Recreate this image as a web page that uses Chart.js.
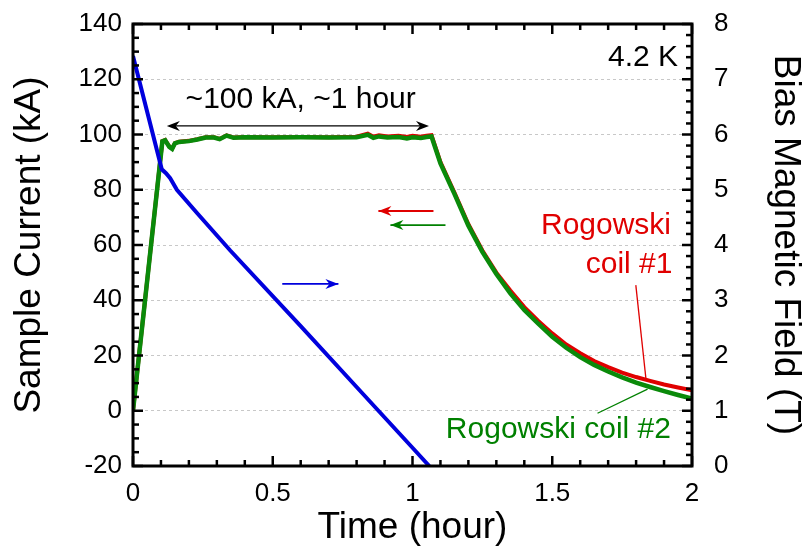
<!DOCTYPE html>
<html>
<head>
<meta charset="utf-8">
<script src="https://cdn.jsdelivr.net/npm/chart.js@4.4.0/dist/chart.umd.min.js"></script>
<style>
  html, body { margin: 0; padding: 0; background: #fff; }
</style>
</head>
<body>
<canvas id="myChart" width="804" height="551"></canvas>
<script>
// ---- data ----
// bias magnetic field (right axis, T)
const fieldTime = [0, 0.103, 0.118, 0.133, 0.157, 0.229, 0.348, 0.6, 0.8, 1.0, 1.06];
const fieldTesla = [7.42, 5.37, 5.3, 5.21, 5.0, 4.58, 3.9, 2.53, 1.43, 0.33, 0];

// sample current from the two Rogowski coils (left axis, kA)
const coilTime = [0, 0.105, 0.115, 0.13, 0.14, 0.15, 0.165, 0.2, 0.23, 0.26,
  0.29, 0.31, 0.335, 0.36, 0.4, 0.5, 0.6, 0.7, 0.8, 0.84,
  0.86, 0.88, 0.91, 0.95, 0.98, 1.0, 1.03, 1.05, 1.068,
  1.1, 1.15, 1.2, 1.25, 1.3, 1.35, 1.4, 1.45, 1.5, 1.55,
  1.6, 1.65, 1.7, 1.75, 1.8, 1.85, 1.9, 1.95, 2.0];
const coil1 = [0, 97.6, 98, 95.6, 94.9, 96.9, 97.4, 97.7, 98.3, 99,
  99, 98.4, 99.7, 98.9, 99.1, 99, 99.1, 99, 99.2, 100.3,
  99.2, 99.7, 99.3, 99.5, 99.1, 99.5, 99.2, 99.6, 99.8,
  90, 79, 67.5, 58, 50, 43.5, 37.5, 32.5, 28, 24,
  20.8, 18, 15.8, 13.8, 12.2, 10.8, 9.5, 8.4, 7.4];
const coil2 = [0, 97.5, 97.9, 95.5, 94.8, 96.8, 97.3, 97.6, 98.2, 98.9,
  98.9, 98.3, 99.6, 98.8, 99, 98.9, 99, 98.9, 99, 99.9,
  98.8, 99.3, 98.9, 99.1, 98.6, 99, 98.7, 99.1, 99.3,
  89.5, 78.5, 67, 57.5, 49.5, 42.5, 36.5, 31.5, 26.8, 22.8,
  19.4, 16.6, 14.2, 12.1, 10.2, 8.6, 7.1, 5.7, 4.4];

// tick labels
const timeTicks = [0, 0.5, 1, 1.5, 2];
const timeLabels = ["0", "0.5", "1", "1.5", "2"];
const currentTicks = [-20, 0, 20, 40, 60, 80, 100, 120, 140];
const currentLabels = ["-20", "0", "20", "40", "60", "80", "100", "120", "140"];
const fieldTicks = [0, 1, 2, 3, 4, 5, 6, 7, 8];
const fieldLabels = ["0", "1", "2", "3", "4", "5", "6", "7", "8"];

const FONT = "'Liberation Sans', Arial, sans-serif";

function toPoints(xs, ys) {
  return xs.map((x, i) => ({ x: x, y: ys[i] }));
}

// frame + inward ticks (major & minor) on all four sides
const frameTicks = {
  id: "frameTicks",
  afterDraw(chart) {
    const { ctx, chartArea: a, scales } = chart;
    ctx.save();
    ctx.strokeStyle = "#000";
    ctx.lineWidth = 2.5;
    const line = (x1, y1, x2, y2) => {
      ctx.beginPath();
      ctx.moveTo(x1, y1);
      ctx.lineTo(x2, y2);
      ctx.stroke();
    };
    for (let i = 0; i <= 20; i++) {
      const x = scales.x.getPixelForValue(i * 0.1);
      const len = i % 5 === 0 ? 10 : 6;
      line(x, a.bottom, x, a.bottom - len);
      line(x, a.top, x, a.top + len);
    }
    for (let i = 0; i <= 32; i++) {
      const y = scales.y.getPixelForValue(-20 + i * 5);
      const len = i % 4 === 0 ? 10 : 6;
      line(a.left, y, a.left + len, y);
    }
    for (let i = 0; i <= 40; i++) {
      const y = scales.y1.getPixelForValue(i * 0.2);
      const len = i % 5 === 0 ? 10 : 6;
      line(a.right, y, a.right - len, y);
    }
    ctx.lineWidth = 3;
    ctx.strokeRect(a.left, a.top, a.right - a.left, a.bottom - a.top);
    ctx.restore();
  },
};

function arrowHead(ctx, x, y, dir, color) {
  // dir: +1 points right, -1 points left
  const L = 13, W = 5, N = 9;
  ctx.fillStyle = color;
  ctx.beginPath();
  ctx.moveTo(x, y);
  ctx.lineTo(x - dir * L, y - W);
  ctx.lineTo(x - dir * N, y);
  ctx.lineTo(x - dir * L, y + W);
  ctx.closePath();
  ctx.fill();
}

// text, arrows and leader lines placed in data units
const notes = {
  id: "notes",
  afterDatasetsDraw(chart) {
    const { ctx, scales } = chart;
    const px = (t) => scales.x.getPixelForValue(t);
    const py = (k) => scales.y.getPixelForValue(k);
    ctx.save();

    // ~100 kA, ~1 hour
    ctx.fillStyle = "#000";
    ctx.font = "30px " + FONT;
    ctx.textAlign = "center";
    ctx.textBaseline = "middle";
    ctx.fillText("~100 kA, ~1 hour", px(0.6), py(112.5));
    ctx.strokeStyle = "#000";
    ctx.lineWidth = 1.2;
    let x1 = px(0.121), x2 = px(1.059), y = py(103.1);
    ctx.beginPath();
    ctx.moveTo(x1 + 6, y);
    ctx.lineTo(x2 - 6, y);
    ctx.stroke();
    arrowHead(ctx, x1, y, -1, "#000");
    arrowHead(ctx, x2, y, 1, "#000");

    // 4.2 K
    ctx.textAlign = "right";
    ctx.fillText("4.2 K", px(1.95), py(127.9));

    // axis direction arrows
    const dirArrow = (ta, tb, k, color, dir) => {
      const xa = px(ta), xb = px(tb), yy = py(k);
      ctx.strokeStyle = color;
      ctx.lineWidth = 1.8;
      ctx.beginPath();
      ctx.moveTo(xa, yy);
      ctx.lineTo(xb, yy);
      ctx.stroke();
      arrowHead(ctx, dir > 0 ? xb : xa, yy, dir, color);
    };
    dirArrow(0.878, 1.075, 72.3, "#e00000", -1);
    dirArrow(0.921, 1.118, 67.2, "#008000", -1);
    dirArrow(0.534, 0.735, 45.9, "#0000dd", 1);

    // coil labels
    ctx.fillStyle = "#e00000";
    ctx.textAlign = "right";
    ctx.fillText("Rogowski", px(1.925), py(66.9));
    ctx.fillText("coil #1", px(1.93), py(52.8));
    ctx.strokeStyle = "#e00000";
    ctx.lineWidth = 1.3;
    ctx.beginPath();
    ctx.moveTo(px(1.799), py(45.5));
    ctx.lineTo(px(1.835), py(11.7));
    ctx.stroke();

    ctx.fillStyle = "#008000";
    ctx.textAlign = "center";
    ctx.fillText("Rogowski coil #2", px(1.522), py(-7));
    ctx.strokeStyle = "#008000";
    ctx.beginPath();
    ctx.moveTo(px(1.662), py(-0.9));
    ctx.lineTo(px(1.841), py(7.8));
    ctx.stroke();

    ctx.restore();
  },
};

const ctx = document.getElementById("myChart").getContext("2d");
const myChart = new Chart(ctx, {
  type: "line",
  data: {
    datasets: [
      {
        label: "Bias field",
        data: toPoints(fieldTime, fieldTesla),
        yAxisID: "y1",
        borderColor: "#0000dd",
        borderWidth: 4,
        pointRadius: 0,
        tension: 0,
      },
      {
        label: "Rogowski coil #2",
        data: toPoints(coilTime, coil2),
        yAxisID: "y",
        borderColor: "#0a8a0a",
        borderWidth: 4.5,
        pointRadius: 0,
        tension: 0,
      },
      {
        label: "Rogowski coil #1",
        data: toPoints(coilTime, coil1),
        yAxisID: "y",
        borderColor: "#e00000",
        borderWidth: 4,
        pointRadius: 0,
        tension: 0,
      },
    ],
  },
  options: {
    responsive: false,
    animation: false,
    devicePixelRatio: 1,
    layout: { padding: { top: 24, left: 0, right: 0, bottom: 0 } },
    plugins: {
      legend: { display: false },
      tooltip: { enabled: false },
    },
    scales: {
      x: {
        type: "linear",
        min: 0,
        max: 2,
        afterBuildTicks: (s) => { s.ticks = timeTicks.map((v) => ({ value: v })); },
        afterFit: (s) => { s.height = 85; s.paddingLeft = 0; s.paddingRight = 0; },
        grid: { display: false, drawTicks: false },
        border: { display: false },
        ticks: {
          color: "#000",
          padding: 12,
          maxRotation: 0,
          font: { family: FONT, size: 26 },
          callback: (v, i) => timeLabels[i],
        },
        title: {
          display: true,
          text: "Time (hour)",
          color: "#000",
          font: { family: FONT, size: 37, lineHeight: 1 },
          padding: { top: 0, bottom: 5 },
        },
      },
      y: {
        type: "linear",
        position: "left",
        min: -20,
        max: 140,
        afterBuildTicks: (s) => { s.ticks = currentTicks.map((v) => ({ value: v })); },
        afterFit: (s) => { s.width = 133; s.paddingTop = 0; s.paddingBottom = 0; },
        grid: { color: "#c8c8c8", lineWidth: 1, drawTicks: false },
        border: { display: false, dash: [3, 3] },
        ticks: {
          color: "#000",
          padding: 11,
          font: { family: FONT, size: 26 },
          callback: (v, i) => currentLabels[i],
        },
        title: {
          display: true,
          text: "Sample Current (kA)",
          color: "#000",
          font: { family: FONT, size: 37, lineHeight: 1 },
          padding: { top: 11, bottom: 0 },
        },
      },
      y1: {
        type: "linear",
        position: "right",
        min: 0,
        max: 8,
        afterBuildTicks: (s) => { s.ticks = fieldTicks.map((v) => ({ value: v })); },
        afterFit: (s) => { s.width = 112; s.paddingTop = 0; s.paddingBottom = 0; },
        grid: { display: false, drawTicks: false },
        border: { display: false },
        ticks: {
          color: "#000",
          padding: 22,
          font: { family: FONT, size: 26 },
          callback: (v, i) => fieldLabels[i],
        },
        title: {
          display: true,
          text: "Bias Magnetic Field (T)",
          color: "#000",
          font: { family: FONT, size: 37, lineHeight: 1 },
          padding: { top: 0, bottom: 0 },
        },
      },
    },
  },
  plugins: [notes, frameTicks],
});
</script>
</body>
</html>
